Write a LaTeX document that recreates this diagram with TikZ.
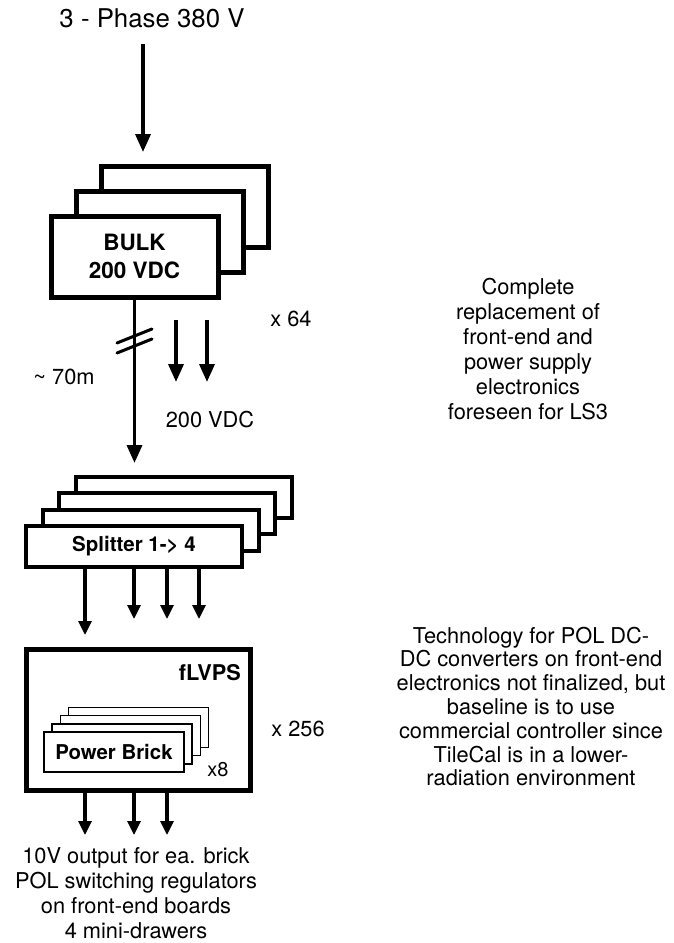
\documentclass[tikz,border=0pt]{standalone}
\usepackage{fontspec}
\setmainfont{TeX Gyre Heros}
\usetikzlibrary{arrows.meta,calc,positioning}
\tikzset{
  bulk box/.style={
    rectangle,
    draw,
    fill=white,
    line width=5pt,
    minimum width=167pt,
    minimum height=81pt,
    inner sep=0pt,
    align=center,
    font=\fontsize{22.5}{28}\selectfont\bfseries
  },
  split box/.style={
    rectangle,
    draw,
    fill=white,
    line width=4pt,
    minimum width=216pt,
    minimum height=41pt,
    inner sep=0pt,
    font=\fontsize{20.5}{24}\selectfont\bfseries
  },
  lvps box/.style={
    rectangle,
    draw,
    line width=5pt,
    minimum width=224pt,
    minimum height=141pt,
    inner sep=0pt
  },
  brick box/.style={
    rectangle,
    draw,
    fill=white,
    line width=1.6pt,
    minimum width=140pt,
    minimum height=40pt,
    inner sep=0pt,
    font=\fontsize{20.4}{24}\selectfont\bfseries
  },
  txt/.style={
    inner sep=0pt,
    align=center,
    font=\fontsize{21.8}{25}\selectfont
  },
  big arrow/.style={
    line width=3.5pt,
    -{Triangle[width=15pt,length=18pt]}
  },
  small arrow/.style={
    line width=3.2pt,
    -{Triangle[width=13pt,length=14pt]}
  },
  slash/.style={line width=3pt, line cap=round}
}

\begin{document}
\begin{tikzpicture}[x=1pt, y=-1pt]
  \useasboundingbox (0,0) rectangle (673,943);

  % Mains input
  \node[txt, font=\fontsize{25.8}{30}\selectfont] (title) at (152,18) {3 - Phase 380 V};
  \coordinate (intip) at (143,152);
  \draw[big arrow, shorten <=16pt] (title.south -| intip) -- (intip);

  % Bulk supplies
  \foreach \k in {2,1}
    \node[bulk box] (bulk\k) at (134.5+25*\k, 256.5-25*\k) {};
  \node[bulk box] (bulk) at (134.5,256.5) {BULK\\200 VDC};

  % Long cable to the splitters
  \coordinate (splitin) at (134.5,463);
  \draw[big arrow] (bulk.south) -- (splitin);
  \coordinate (cut) at (134.5,341);
  \foreach \d in {-5,5}
    \draw[slash] ($(cut)+(-17.5,7+\d)$) -- ($(cut)+(17.5,-7+\d)$);

  % Other bulk outputs
  \foreach \x in {176,207} {
    \coordinate (dctop\x) at (\x,320);
    \coordinate (dctip\x) at (\x,382);
    \draw[big arrow] (dctop\x) -- (dctip\x);
  }
  \node[txt] (mult64) at (291,319) {x 64};
  \node[txt] (cablelen) at (64,377) {\textasciitilde{} 70m};
  \node[txt] (dcvolt) at (210,420) {200 VDC};

  % Splitters
  \foreach \k in {3,2,1}
    \node[split box] (split\k) at (134+16.5*\k, 546.5-16.5*\k) {};
  \node[split box] (split) at (134,546.5) {Splitter 1-> 4};
  \foreach \x/\y in {85/635, 134/619, 167/619, 199/619} {
    \coordinate (sptip\x) at (\x,\y);
    \draw[small arrow] (split.south -| sptip\x) -- (sptip\x);
  }

  % fLVPS with power bricks
  \node[lvps box] (flvps) at (138,719.5) {};
  \node[txt, anchor=east, font=\fontsize{21.7}{25}\selectfont\bfseries] (flvpsname) at (241,673) {fLVPS};
  \foreach \k in {3,2,1}
    \node[brick box] (brick\k) at (114+8.2*\k, 752-8.2*\k) {};
  \node[brick box] (brick) at (114,752) {Power Brick};
  \node[txt, font=\fontsize{20}{24}\selectfont] (mult8) at (218,770) {x8};
  \node[txt] (mult256) at (298,729) {x 256};
  \foreach \x in {85,134,167} {
    \coordinate (outtip\x) at (\x,835);
    \draw[small arrow] (flvps.south -| outtip\x) -- (outtip\x);
  }

  % Notes
  \node[txt] (outnote) at (136,893) {10V output for ea. brick\\POL switching regulators\\on front-end boards\\4 mini-drawers};
  \node[txt] (lsnote) at (528,349.5) {Complete\\replacement of\\front-end and\\power supply\\electronics\\foreseen for LS3};
  \node[txt, font=\fontsize{21.8}{23.8}\selectfont] (polnote) at (531,706.5) {Technology for POL DC-\\DC converters on front-end\\electronics not finalized, but\\baseline is to use\\commercial controller since\\TileCal is in a lower-\\radiation environment};

\end{tikzpicture}
\end{document}
